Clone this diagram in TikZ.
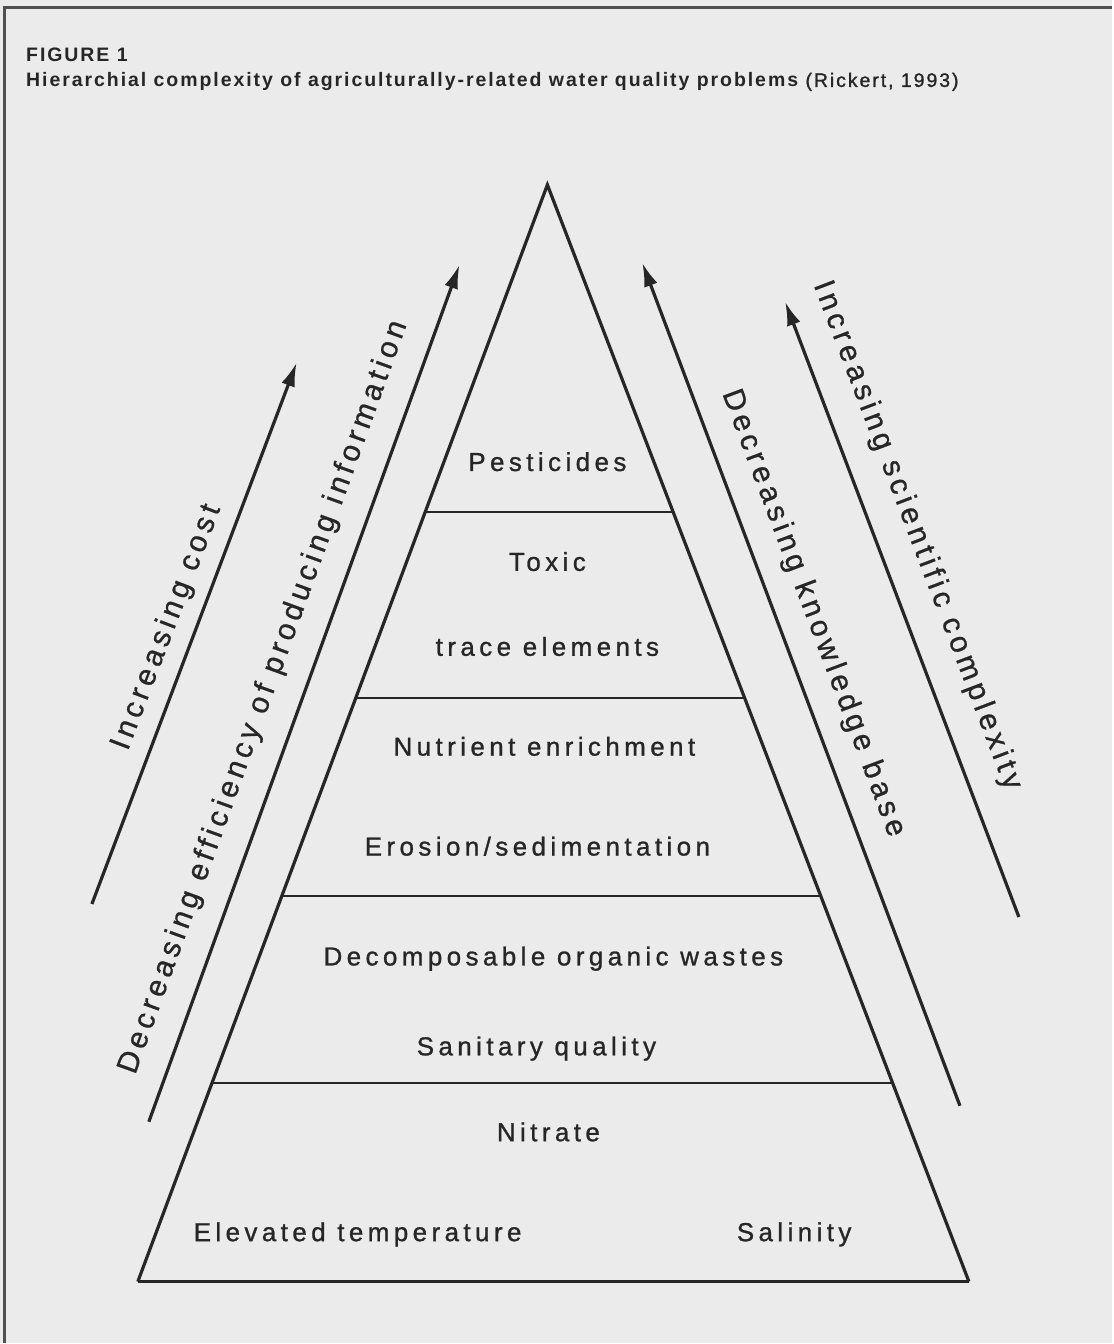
\documentclass[tikz,border=0pt]{standalone}
\usepackage{fontspec}
\setmainfont{Liberation Sans}
\usetikzlibrary{arrows.meta,calc}
\definecolor{ink}{HTML}{262626}
\definecolor{paper}{HTML}{EBEBEB}
\definecolor{framec}{HTML}{505050}
\begin{document}
\begin{tikzpicture}[x=1pt,y=-1pt,
  edge/.style={line width=3.2pt, draw=ink, line join=miter},
  baseedge/.style={line width=3.8pt, draw=ink},
  divider/.style={line width=2pt, draw=ink},
  arr/.style={line width=3.2pt, draw=ink, -{Latex[length=24pt,width=14pt]}},
  lvl/.style={anchor=base, inner sep=0pt, text=ink,
    font=\fontsize{26}{30}\selectfont\addfontfeatures{LetterSpace=17,FakeBold=1}},
  side/.style={anchor=center, inner sep=0pt, text=ink,
    font=\fontsize{30}{36}\selectfont\addfontfeatures{LetterSpace=15,FakeBold=0.8}},
  ttl/.style={anchor=base west, inner sep=0pt, text=ink,
    font=\fontsize{19.5}{23}\selectfont\bfseries\addfontfeatures{LetterSpace=10}},
]
% background and frame
\fill[paper] (0,0) rectangle (1113,1344);
\draw[line width=3pt, draw=framec] (5,1344) -- (5,8) -- (1113,8);

% title
\node[ttl] (fig) at (26,62) {FIGURE 1};
\node[ttl] (cap) at (26,87) {Hierarchial complexity of agriculturally-related water quality problems {\mdseries\addfontfeatures{FakeBold=1.2} (Rickert, 1993)}};

% pyramid
\coordinate (apex) at (548,185);
\coordinate (bl) at (138,1283);
\coordinate (br) at (970,1283);
\draw[edge] (bl) -- (apex) -- (br);
\draw[baseedge] (bl) -- (br);

\draw[divider] ($(apex)!0.2987!(bl)$) -- ($(apex)!0.2987!(br)$);
\draw[divider] ($(apex)!0.4681!(bl)$) -- ($(apex)!0.4681!(br)$);
\draw[divider] ($(apex)!0.6485!(bl)$) -- ($(apex)!0.6485!(br)$);
\draw[divider] ($(apex)!0.8188!(bl)$) -- ($(apex)!0.8188!(br)$);

% level labels
\node[lvl] (pest) at (548,471.5) {Pesticides};
\node[lvl] (tox) at (548,571.5) {Toxic};
\node[lvl] (trace) at (548,656.5) {trace elements};
\node[lvl] (nutr) at (545,756.5) {Nutrient enrichment};
\node[lvl] (eros) at (538,856.5) {Erosion/sedimentation};
\node[lvl] (deco) at (554,966.5) {Decomposable organic wastes};
\node[lvl] (sani) at (537,1056.5) {Sanitary quality};
\node[lvl] (nitr) at (549,1142.5) {Nitrate};
\node[lvl] (temp) at (358,1242.5) {Elevated temperature};
\node[lvl] (sali) at (795,1242.5) {Salinity};

% side arrows
\coordinate (aT) at (92,905);   \coordinate (aH) at (297,363);
\coordinate (bT) at (149,1123); \coordinate (bH) at (460,265);
\coordinate (cT) at (961,1107); \coordinate (cH) at (643,263);
\coordinate (dT) at (1020,918); \coordinate (dH) at (786,302);
\draw[arr] (aT) -- (aH);
\draw[arr] (bT) -- (bH);
\draw[arr] (cT) -- (cH);
\draw[arr] (dT) -- (dH);

\node[side, rotate=69.1] (lA) at (167,628) {Increasing cost};
\node[side, rotate=70.1] (lB) at (264,698) {Decreasing efficiency of producing information};
\node[side, rotate=-69.4] (lC) at (814,614) {Decreasing knowledge base};
\node[side, rotate=-69.2] (lD) at (918,536) {Increasing scientific complexity};
\end{tikzpicture}
\end{document}
